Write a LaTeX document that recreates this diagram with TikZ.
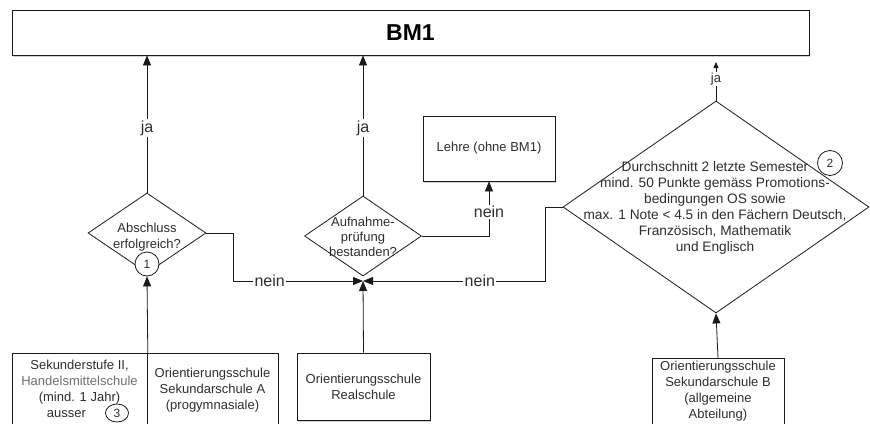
\documentclass[tikz,border=0pt]{standalone}
\usepackage{fontspec}
\setmainfont{Liberation Sans}
\usetikzlibrary{arrows.meta,shapes.geometric,shadows}
\definecolor{txtc}{HTML}{2E2E2E}
\definecolor{grayt}{HTML}{707070}
\definecolor{linec}{HTML}{1A1A1A}
\tikzset{
  base/.style={draw=linec,line width=0.8pt,fill=white,text=txtc,inner sep=0pt,align=center,
     font=\fontsize{13}{16}\selectfont},
  boxs/.style={base,rectangle,drop shadow={shadow xshift=0.8pt,shadow yshift=-2.2pt,opacity=0.35}},
  boxn/.style={base,rectangle},
  dia/.style={draw=linec,line width=0.8pt,fill=white,shape=diamond,inner sep=0pt},
  dtext/.style={text=txtc,align=center,inner sep=0pt,font=\fontsize{13}{16}\selectfont},
  numc/.style={draw=linec,line width=0.8pt,fill=white,circle,inner sep=0pt,text=txtc,
     font=\fontsize{12}{12}\selectfont},
  conn/.style={draw=linec,line width=0.8pt},
  arr/.style={conn,-{Triangle[length=10pt,width=8pt]}},
  lbl/.style={fill=white,text=txtc,inner sep=1.5pt,font=\fontsize{16}{18}\selectfont},
}
\begin{document}
\begin{tikzpicture}[x=1pt,y=-1pt]
\useasboundingbox (0,0) rectangle (870,423);
% top box
\node[boxs,minimum width=797pt,minimum height=45pt,font=\fontsize{23}{24}\selectfont\bfseries,text=black]
  (bm) at (410.5,32.5) {BM1};
% Lehre
\node[boxs,minimum width=132pt,minimum height=65pt] (lehre) at (489,148.5) {Lehre (ohne BM1)};
% diamonds
\node[dia,minimum width=118pt,minimum height=80pt] (d1) at (147,233) {};
\node[dtext] (d1t) at (147,237) {Abschluss\\erfolgreich?};
\node[numc,minimum size=24pt] (c1) at (147,264) {1};
\node[dia,minimum width=117pt,minimum height=80pt] (d2) at (363,236) {};
\node[dtext,font=\fontsize{13}{15}\selectfont] (d2t) at (363,237) {Aufnahme-\\prüfung\\bestanden?};
\node[dia,minimum width=306pt,minimum height=212pt] (d3) at (716,207) {};
\node[dtext,font=\fontsize{13.7}{16}\selectfont] (d3t) at (715,208) {Durchschnitt 2 letzte Semester\\mind. 50 Punkte gemäss Promotions-\\bedingungen OS sowie\\max. 1 Note < 4.5 in den Fächern Deutsch,\\Französisch, Mathematik\\und Englisch};
\node[numc,minimum size=25pt] (c2) at (830,163) {2};
% bottom boxes
\node[boxn,minimum width=135pt,minimum height=84pt,anchor=north west] (bl) at (12,353) {};
\node[dtext] (blt) at (79.5,389) {Sekunderstufe II,\\\textcolor{grayt}{Handelsmittelschule}\\(mind. 1 Jahr)\\ausser\hspace{26pt}\mbox{}};
\node[numc,minimum width=23pt,minimum height=18pt,ellipse] (c3) at (117,413) {3};
\node[boxn,minimum width=131pt,minimum height=84pt,anchor=north west] (br) at (147,353) {};
\node[dtext] (brt) at (212.5,390) {Orientierungsschule\\Sekundarschule A\\(progymnasiale)};
\node[boxs,minimum width=133pt,minimum height=67pt] (real) at (363.5,386.5) {Orientierungsschule\\Realschule};
\node[boxn,minimum width=132pt,minimum height=80pt,anchor=north] (bb) at (718,358) {};
\node[dtext] (bbt) at (718,391.5) {Orientierungsschule\\Sekundarschule B\\(allgemeine\\Abteilung)};
% junction and free end
\coordinate (J) at (363,281);
\coordinate (top3) at (716,62);
% connectors
\draw[arr] (d1.north) -- (d1.north |- bm.south) node[lbl,pos=0.47]{ja};
\draw[arr] (d2.north) -- (d2.north |- bm.south) node[lbl,pos=0.48]{ja};
\draw[conn,-{Triangle[length=6pt,width=5pt]}] (d3.north) -- (top3) node[lbl,pos=0.55,inner sep=1pt,font=\fontsize{13}{14}\selectfont]{ja};
\draw[arr] (d1.east) -- ++(27,0) |- (J) node[lbl,pos=0.64]{nein};
\draw[arr] (d3.west) -- ++(-17,0) |- (J) node[lbl,pos=0.68]{nein};
\draw[arr] (d2.east) -| (lehre.south) node[lbl,pos=0.72]{nein};
\draw[arr] (bl.north east) -- (c1.south);
\draw[arr] (real.north) -- (J);
\draw[arr] (bb.north) -- (d3.south);
\end{tikzpicture}
\end{document}
